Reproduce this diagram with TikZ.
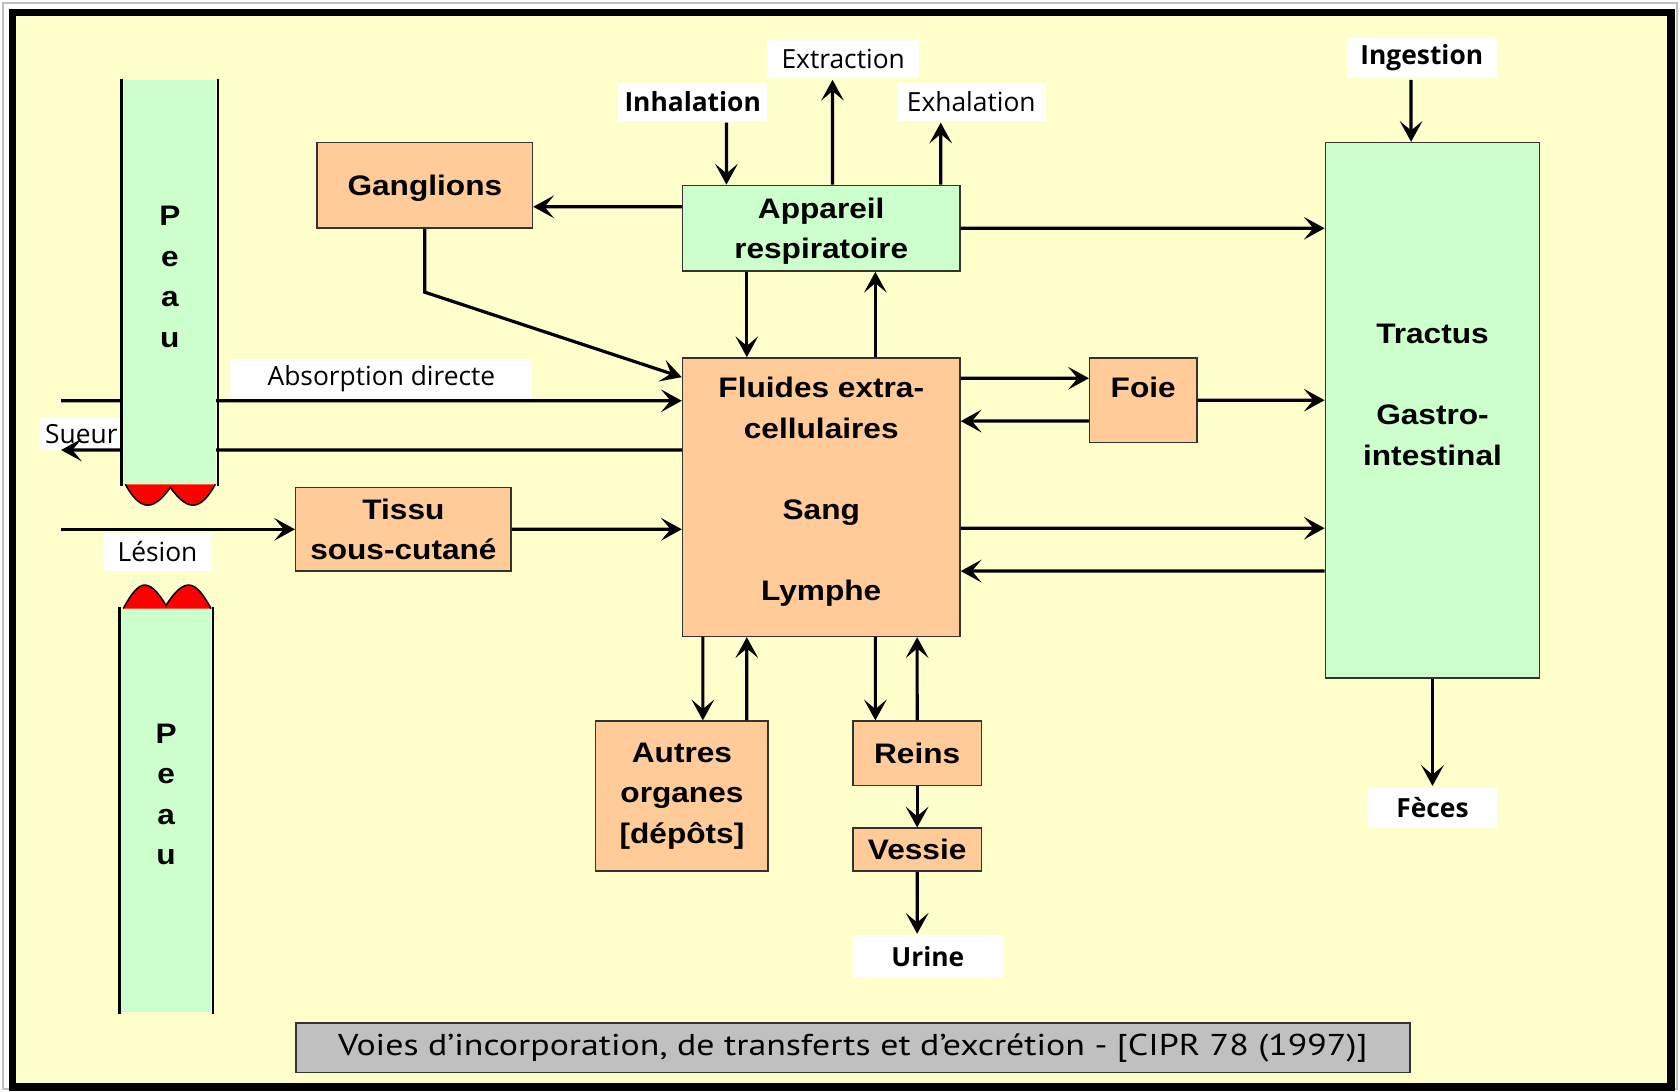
\documentclass[tikz,border=0pt]{standalone}
\usepackage{fontspec}
\usetikzlibrary{arrows.meta}
\newfontfamily\boitefont[FakeStretch=1.12]{Liberation Sans}
\newfontfamily\labelfont{Open Sans}
\newfontfamily\captionfont[FakeStretch=1.19]{PT Sans}
\definecolor{fond}{HTML}{FFFFCC}
\definecolor{orangeclair}{HTML}{FFCC99}
\definecolor{vertclair}{HTML}{CCFFCC}
\definecolor{grisleg}{HTML}{C0C0C0}
\begin{document}
\begin{tikzpicture}[x=0.02cm, y=-0.02cm, line width=1.7pt,
    >={Stealth[length=11pt,width=12pt,inset=5pt]},
    organe/.style={draw=black!80, line width=0.8pt, fill=orangeclair, align=center,
        font=\boitefont\bfseries\fontsize{15}{21.5}\selectfont},
    systeme/.style={organe, fill=vertclair},
    peau/.style={fill=vertclair, align=center, inner sep=0pt,
        font=\boitefont\bfseries\fontsize{15}{21.5}\selectfont},
    etiquette/.style={fill=white, inner sep=0pt, font=\labelfont\fontsize{14}{16}\selectfont},
    etiquettegras/.style={etiquette, font=\labelfont\bfseries\fontsize{14}{16}\selectfont}]
    \useasboundingbox (0,0) rectangle (1568,1019);
    \fill[white] (0,0) rectangle (1568,1019);
    \draw[gray!50, line width=1pt] (2.5,2.5) rectangle (1565.5,1016.5);
    \draw[line width=4pt, fill=fond] (11.5,11.5) rectangle (1559.5,1014.5);

    \node[organe, minimum width=4.02cm, minimum height=1.6cm, text depth=0pt] (ganglions) at (396.5,173) {Ganglions};
    \node[systeme, minimum width=5.18cm, minimum height=1.6cm, text depth=0pt] (appareil) at (766.5,213) {Appareil\\respiratoire};
    \node[organe, minimum width=5.18cm, minimum height=5.2cm, text depth=0.3cm] (fluides) at (766.5,464)
        {Fluides extra-\\cellulaires\\[0.76cm]Sang\\[0.76cm]Lymphe};
    \node[organe, minimum width=2cm, minimum height=1.58cm, text depth=0.5cm] (foie) at (1067,373.5) {Foie};
    \node[systeme, minimum width=4cm, minimum height=10cm, text depth=0.58cm] (tractus) at (1337,383)
        {Tractus\\[0.76cm]Gastro-\\intestinal};
    \node[organe, minimum width=4.02cm, minimum height=1.56cm] (tissu) at (376.5,494) {Tissu\\sous-cutané};
    \node[organe, minimum width=3.22cm, minimum height=2.8cm] (autres) at (636.5,743) {Autres\\organes\\{[dépôts]}};
    \node[organe, minimum width=2.4cm, minimum height=1.2cm] (reins) at (856,703) {Reins};
    \node[organe, minimum width=2.4cm, minimum height=0.8cm, text depth=0pt] (vessie) at (856,793) {Vessie};

    \node[draw=black!80, line width=0.8pt, fill=grisleg, minimum width=20.8cm, minimum height=0.92cm,
        font=\captionfont\fontsize{16}{18}\selectfont] (legende) at (796,978)
        {Voies d’incorporation, de transferts et d’excrétion - [CIPR 78 (1997)]};

    \node[etiquettegras, minimum width=2.78cm, minimum height=0.72cm] (inhalation) at (646.5,95) {Inhalation};
    \node[etiquette, minimum width=2.84cm, minimum height=0.72cm] (extraction) at (787,55) {Extraction};
    \node[etiquette, minimum width=2.78cm, minimum height=0.72cm] (exhalation) at (906.5,95) {Exhalation};
    \node[etiquettegras, minimum width=2.8cm, minimum height=0.76cm] (ingestion) at (1327,54) {Ingestion};
    \node[etiquettegras, minimum width=2.4cm, minimum height=0.76cm] (feces) at (1337,754) {Fèces};
    \node[etiquettegras, minimum width=2.8cm, minimum height=0.8cm] (urine) at (866,893) {Urine};
    \node[etiquette, minimum width=5.64cm, minimum height=0.74cm] (absorption) at (356,353.5) {Absorption directe};
    \node[etiquette, minimum width=1.56cm, minimum height=0.6cm] (sueur) at (76,405) {Sueur};
    \node[etiquette, minimum width=2cm, minimum height=0.72cm] (lesion) at (147,515) {Lésion};

    \coordinate (absin) at (57,374);
    \coordinate (sueurout) at (57,420);
    \coordinate (lesionin) at (57,494);

    \draw[->] ([xshift=0.63cm]inhalation.south) -- ([xshift=-1.77cm]appareil.north);
    \draw[->] ([xshift=0.21cm]appareil.north) -- ([xshift=-0.2cm]extraction.south);
    \draw[->] ([xshift=2.23cm]appareil.north) -- ([xshift=-0.57cm]exhalation.south);
    \draw[->] ([yshift=0.4cm]appareil.west) -- ([yshift=-0.4cm]ganglions.east);
    \draw[->] (appareil.east) -- ([yshift=3.4cm]tractus.west);
    \draw[->] ([xshift=-1.39cm]appareil.south) -- ([xshift=-1.39cm]fluides.north);
    \draw[->] ([xshift=1.01cm]fluides.north) -- ([xshift=1.01cm]appareil.south);
    \draw[->] (ganglions.south) -- ++(0,59) -- ([yshift=2.24cm]fluides.west);
    \draw[->] (absin) -- ([yshift=1.8cm]fluides.west);
    \draw[->] ([yshift=0.88cm]fluides.west) -- (sueurout);
    \draw[->] (lesionin) -- (tissu.west);
    \draw[->] (tissu.east) -- ([yshift=-0.6cm]fluides.west);
    \draw[->] ([yshift=2.22cm]fluides.east) -- ([yshift=0.41cm]foie.west);
    \draw[->] ([yshift=-0.39cm]foie.west) -- ([yshift=1.42cm]fluides.east);
    \draw[->] (foie.east) -- ([yshift=0.19cm]tractus.west);
    \draw[->] ([yshift=-0.58cm]fluides.east) -- ([yshift=-2.2cm]tractus.west);
    \draw[->] ([yshift=-3cm]tractus.west) -- ([yshift=-1.38cm]fluides.east);
    \draw[->] ([xshift=-0.2cm]ingestion.south) -- ([xshift=-0.4cm]tractus.north);
    \draw[->] (tractus.south) -- (feces.north);
    \draw[->] ([xshift=-2.21cm]fluides.south) -- ([xshift=0.39cm]autres.north);
    \draw[->] ([xshift=1.21cm]autres.north) -- ([xshift=-1.39cm]fluides.south);
    \draw[->] ([xshift=1.01cm]fluides.south) -- ([xshift=-0.78cm]reins.north);
    \draw[->] (reins.north) -- ([xshift=1.79cm]fluides.south);
    \draw[->] (reins) -- (vessie);
    \draw[->] (vessie.south) -- ([xshift=-0.2cm]urine.north);

    \node[peau, minimum width=1.74cm, minimum height=7.54cm, text depth=0.2cm] (peauhaut) at (158.5,263.5) {P\\e\\a\\u};
    \node[peau, minimum width=1.68cm, minimum height=7.54cm, text depth=0.6cm] (peaubas) at (155,756.5) {P\\e\\a\\u};
    \draw[line width=1.2pt] (peauhaut.north west) -- (peauhaut.south west) (peauhaut.north east) -- (peauhaut.south east);
    \draw[line width=1.2pt] (peaubas.north west) -- (peaubas.south west) (peaubas.north east) -- (peaubas.south east);

    \fill[red] (117,452) .. controls (123,463) and (130,471.5) .. (138,471.5) .. controls (146,471.5) and (154,462) .. (159,455)
        .. controls (164,462) and (172,471.5) .. (180,471.5) .. controls (188,471.5) and (195,463) .. (201,452) -- cycle;
    \draw[line width=0.8pt] (117,452) .. controls (123,463) and (130,471.5) .. (138,471.5) .. controls (146,471.5) and (154,462) .. (159,455)
        .. controls (164,462) and (172,471.5) .. (180,471.5) .. controls (188,471.5) and (195,463) .. (201,452);
    \fill[red] (115,568) .. controls (121,557) and (128,546) .. (135,546) .. controls (143,546) and (150,557) .. (155,565)
        .. controls (160,557) and (168,546) .. (176,546) .. controls (184,546) and (191,557) .. (197,568) -- cycle;
    \draw[line width=0.8pt] (115,568) .. controls (121,557) and (128,546) .. (135,546) .. controls (143,546) and (150,557) .. (155,565)
        .. controls (160,557) and (168,546) .. (176,546) .. controls (184,546) and (191,557) .. (197,568);
\end{tikzpicture}
\end{document}
